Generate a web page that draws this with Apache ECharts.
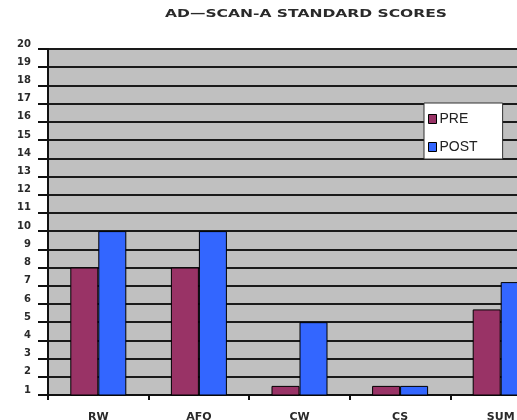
<!DOCTYPE html>
<html>
<head>
<meta charset="utf-8">
<script src="https://cdn.jsdelivr.net/npm/echarts@6/dist/echarts.min.js"></script>
<style>
  html, body { margin: 0; padding: 0; background: #fff; overflow: hidden; }
  #chart { width: 517px; height: 420px; }
</style>
</head>
<body>
<div id="chart"></div>
<script>
// Subscale names along the x axis
const categories = ['RW', 'AFQ', 'CW', 'CS', 'SUM'];
// Standard scores before and after
const preScores = [8, 8, 1.5, 1.5, 5.7];
const postScores = [10, 10, 5, 1.5, 7.2];
// Value axis range
const yMin = 1;
const yMax = 20;
const yStep = 1;

const chart = echarts.init(document.getElementById('chart'), null, { renderer: 'canvas' });

const titleText = 'AD—SCAN-A STANDARD SCORES';
const titleFont = 'bold 11px "DejaVu Sans", sans-serif';
// Widen the heading to span its intended 282px
const measureCtx = document.createElement('canvas').getContext('2d');
measureCtx.font = titleFont;
const titleScale = 282 / measureCtx.measureText(titleText).width;

const labelFont = {
  fontFamily: 'DejaVu Sans, sans-serif',
  fontWeight: 'bold',
  fontSize: 10,
  color: '#2a2a2a'
};

chart.setOption({
  animation: false,
  backgroundColor: '#ffffff',
  graphic: [{
    type: 'text',
    x: 306,
    y: 9,
    scaleX: titleScale,
    style: {
      text: titleText,
      font: titleFont,
      fill: '#2a2a2a',
      align: 'center',
      verticalAlign: 'top'
    }
  }],
  legend: {
    orient: 'vertical',
    left: 424,
    top: 103,
    data: ['PRE', 'POST'],
    icon: 'rect',
    itemWidth: 8,
    itemHeight: 9,
    itemGap: 14,
    padding: [9, 25, 5, 4],
    backgroundColor: '#ffffff',
    borderColor: '#333333',
    borderWidth: 1,
    itemStyle: { borderColor: '#000', borderWidth: 1 },
    textStyle: {
      fontFamily: 'Liberation Sans, Arial, sans-serif',
      fontSize: 14,
      color: '#222',
      padding: [0, 0, 0, -2]
    }
  },
  grid: {
    left: 48,
    top: 49,
    width: 503,
    height: 346,
    show: true,
    backgroundColor: '#c0c0c0',
    borderWidth: 0,
    containLabel: false,
    outerBoundsMode: 'none'
  },
  xAxis: {
    type: 'category',
    data: categories,
    boundaryGap: true,
    axisLine: { show: true, lineStyle: { color: '#111', width: 2 } },
    axisTick: { show: true, length: 5, lineStyle: { color: '#111', width: 2 } },
    axisLabel: Object.assign({}, labelFont, { margin: 17, fontSize: 11 }),
    splitLine: { show: false }
  },
  yAxis: {
    type: 'value',
    min: yMin,
    max: yMax,
    interval: yStep,
    axisLine: { show: true, lineStyle: { color: '#111', width: 2 } },
    axisTick: { show: true, length: 10, lineStyle: { color: '#111', width: 2 } },
    axisLabel: Object.assign({}, labelFont, { margin: 17, verticalAlign: 'bottom', align: 'right' }),
    splitLine: { show: true, lineStyle: { color: '#1a1a1a', width: 2 } }
  },
  series: [
    {
      name: 'PRE',
      type: 'bar',
      data: preScores,
      barWidth: 28,
      barGap: '0%',
      clip: true,
      itemStyle: { color: '#993366', borderColor: '#000', borderWidth: 1 }
    },
    {
      name: 'POST',
      type: 'bar',
      data: postScores,
      barWidth: 28,
      barGap: '0%',
      clip: true,
      itemStyle: { color: '#3366ff', borderColor: '#000', borderWidth: 1 }
    }
  ]
});
</script>
</body>
</html>
